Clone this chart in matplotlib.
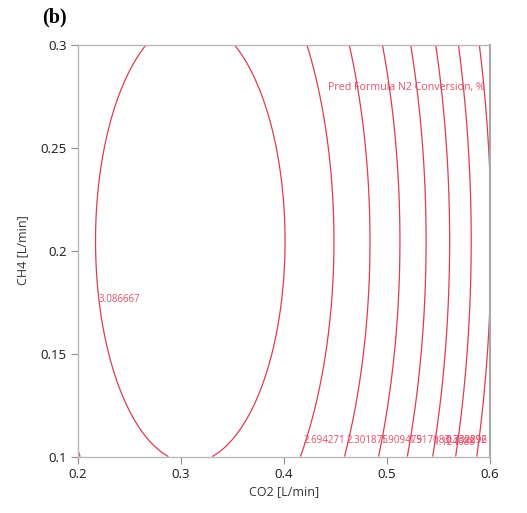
import numpy as np
import matplotlib.pyplot as plt

# contour levels of the prediction formula (N2 conversion, %)
levels = [0.339896, 0.732292, 1.124688, 1.517083, 1.909479, 2.301875, 2.694271, 3.086667]
level_labels = ['0.339896', '0.732292', '1.124688', '1.517083', '1.909479', '2.301875', '2.694271', '3.086667']

# quadratic response surface: peak value, optimum and curvature terms
peak = 3.389
co2_opt = 0.309
ch4_opt = 0.2047
curv_co2 = 35.74
curv_ch4 = 26.11

co2_ticks = [0.2, 0.3, 0.4, 0.5, 0.6]
ch4_ticks = [0.1, 0.15, 0.2, 0.25, 0.3]
ch4_tick_labels = ['0.1', '0.15', '0.2', '0.25', '0.3']


def pred_n2(co2, ch4):
    return peak - curv_co2 * (co2 - co2_opt) ** 2 - curv_ch4 * (ch4 - ch4_opt) ** 2


def co2_on_level(level, ch4, side=1):
    u2 = (peak - level - curv_ch4 * (ch4 - ch4_opt) ** 2) / curv_co2
    return co2_opt + side * np.sqrt(u2)


line_col = '#dd3c55'
text_col = '#e0506a'
plt.rcParams['font.family'] = ['Open Sans', 'DejaVu Sans']

fig = plt.figure(figsize=(5.27, 5.13), dpi=100)
ax = fig.add_axes([0.148, 0.110, 0.782, 0.803])

x = np.linspace(0.2, 0.6, 500)
y = np.linspace(0.1, 0.3, 500)
X, Y = np.meshgrid(x, y)
Z = pred_n2(X, Y)
ax.contour(X, Y, Z, levels=levels, colors=line_col, linewidths=0.9)

ax.set_xlim(0.2, 0.6)
ax.set_ylim(0.1, 0.3)

# level labels along the bottom edge, pulled back inside the frame if needed
renderer = fig.canvas.get_renderer()
ax_right = ax.get_window_extent(renderer).x1 - 3
label_ch4 = 0.108
for lev, lab in zip(levels[:-1], level_labels[:-1]):
    dy = -0.0014 if lab == '1.124688' else 0.0
    t = ax.text(co2_on_level(lev, label_ch4) - 0.002, label_ch4 + dy, lab, color=text_col,
                fontsize=7.0, ha='left', va='center')
    bb = t.get_window_extent(renderer)
    if bb.x1 > ax_right:
        t.set_x(t.get_position()[0] - (bb.x1 - ax_right) / ax.transData.get_matrix()[0, 0])
ax.text(co2_on_level(levels[-1], 0.1765, side=-1), 0.1765, level_labels[-1],
        color=text_col, fontsize=7.0, ha='left', va='center')
ax.text(0.4425, 0.279, 'Pred Formula N2 Conversion, %', color=text_col,
        fontsize=7.7, ha='left', va='center')

ax.set_xticks(co2_ticks)
ax.set_xticklabels([str(t) for t in co2_ticks])
ax.set_yticks(ch4_ticks)
ax.set_yticklabels(ch4_tick_labels)
ax.tick_params(direction='out', length=5, width=0.8, color='#909090',
               labelsize=9.5, labelcolor='#1a1a1a', pad=3)
for s in ax.spines.values():
    s.set_color('#b8b8b8')
    s.set_linewidth(1.0)
ax.spines['right'].set_color('#a8a8a8')
ax.spines['right'].set_linewidth(1.5)

ax.set_xlabel('CO2 [L/min]', fontsize=9, color='#333333', labelpad=3)
ax.set_ylabel('CH4 [L/min]', fontsize=9, color='#333333', labelpad=8)

fig.text(0.080, 0.965, '(b)', family='Liberation Serif', fontweight='bold',
         fontsize=14.5, va='center', ha='left')

fig.savefig('out.png', dpi=100)
